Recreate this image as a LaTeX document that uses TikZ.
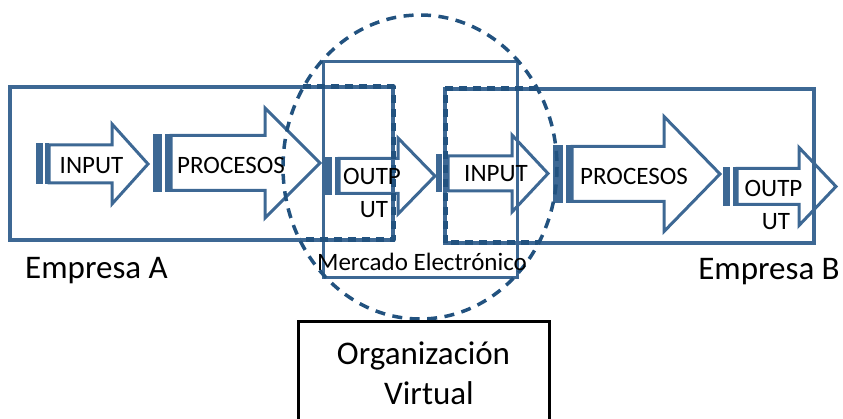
\documentclass[tikz,border=0pt]{standalone}
\usepackage{fontspec}
\setmainfont{Carlito}
\definecolor{ol}{HTML}{3D6894}
\definecolor{dk}{HTML}{22527F}
\newcommand\sarrow[8]{%
  \fill[ol] (#2,#6-#7-1.5) rectangle (#2+0.5*#3,#6+#7+1.5);
  \fill[ol] (#2+0.68*#3,#6-#7-1.5) rectangle (#2+#3,#6+#7+1.5);
  \draw[arrowline] (#2+#3,#6-#7) -- (#4,#6-#7) -- (#4,#6-#8) -- (#5,#6) -- (#4,#6+#8) -- (#4,#6+#7) -- (#2+#3,#6+#7) -- cycle;
  \coordinate (#1) at (#5,#6);
}
\tikzset{
  arrowline/.style={draw=ol, line width=3pt, line join=miter},
  boxline/.style={draw=ol, line width=3.5pt},
  overlay dash/.style={draw=dk, line width=5pt, dash pattern=on 8pt off 6pt, line join=round},
  circ/.style={draw=dk, line width=3.5pt, dash pattern=on 10pt off 7.5pt},
  small/.style={inner sep=0pt, font=\fontsize{25}{30}\selectfont},
  big/.style={inner sep=0pt, font=\fontsize{33}{40}\selectfont},
}
\begin{document}
\begin{tikzpicture}[x=1pt,y=-1pt]
\useasboundingbox (0,0) rectangle (843,419);
% Empresa boxes (solid)
\draw[boxline] (10,87) rectangle (393,240);
\draw[boxline] (445,89) rectangle (814,243);
% Mercado box
\draw[draw=ol, line width=3pt] (323,62) rectangle (517,278);
% Arrows
\sarrow{a1}{36}{13}{112}{148}{164}{19}{40}
\sarrow{a2}{153}{18}{265}{320}{163}{27.5}{55}
\sarrow{a3}{325}{14}{398}{435}{176}{17.5}{38}
\sarrow{a4}{436}{12}{512}{548}{173.5}{17.5}{38.5}
\sarrow{a5}{553}{19}{664}{720}{174}{27.5}{57.5}
\sarrow{a6}{723}{14}{799}{836}{186.5}{18}{39}
% ellipse
\draw[circ] (420,167) ellipse [x radius=137, y radius=152];
% dashed overlays
\draw[overlay dash] (303,87) -- (393,87) -- (393,240) -- (300,240);
\draw[overlay dash] (537,89) -- (445,89) -- (445,243) -- (538,243);
% Organizacion box
\draw[line width=3pt] (298,430) -- (298,322) -- (549,322) -- (549,430);
% labels
\node[small, anchor=base] (t1) at (91.5,174) {INPUT};
\node[small, anchor=base] (t2) at (231,174) {PROCESOS};
\node[small, anchor=base] (t3a) at (372,185) {OUTP};
\node[small, anchor=base] (t3b) at (374,218) {UT};
\node[small, anchor=base] (t4) at (496,182) {INPUT};
\node[small, anchor=base] (t5) at (634,185) {PROCESOS};
\node[small, anchor=base] (t6a) at (773.5,197) {OUTP};
\node[small, anchor=base] (t6b) at (776,230) {UT};
\node[small, anchor=base] (me) at (422,271) {Mercado Electrónico};
\node[big, anchor=base] (ea) at (96.5,279) {Empresa A};
\node[big, anchor=base] (eb) at (769,280) {Empresa B};
\node[big, anchor=base] (ov1) at (423.5,365) {Organización};
\node[big, anchor=base] (ov2) at (429,404) {Virtual};
\end{tikzpicture}
\end{document}
